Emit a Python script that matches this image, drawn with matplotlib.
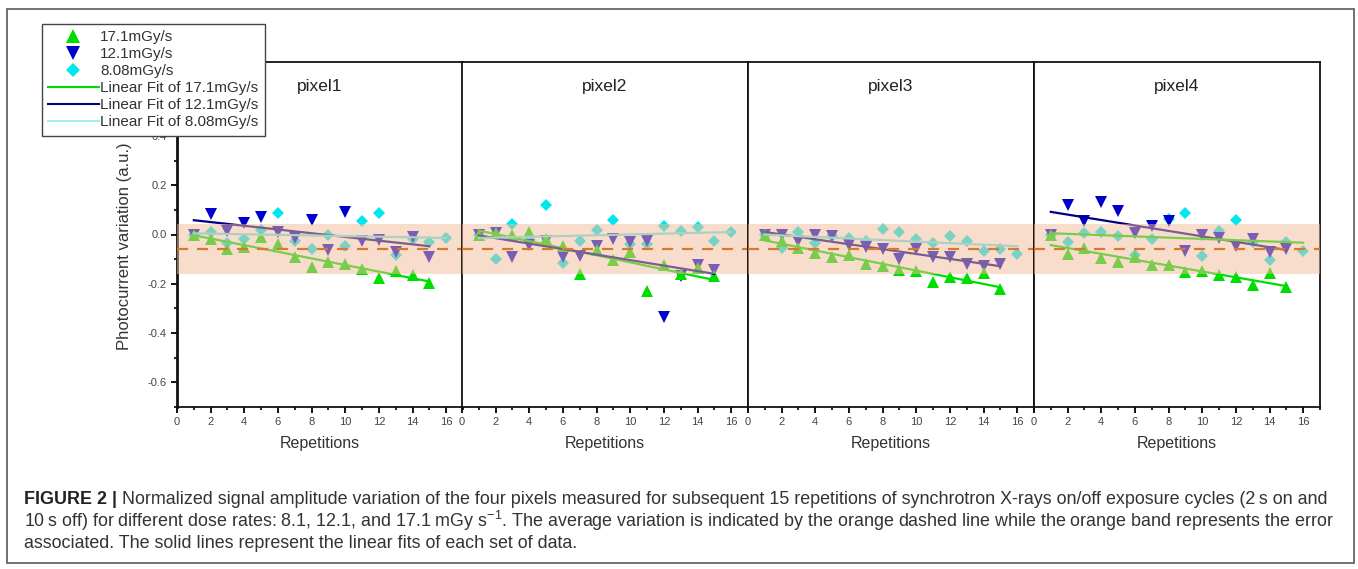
import numpy as np
import matplotlib
matplotlib.use('Agg')
import matplotlib.pyplot as plt
from matplotlib import font_manager
from matplotlib.lines import Line2D
from matplotlib.patches import Rectangle
from matplotlib.ticker import MultipleLocator

REPS_15 = list(range(1, 16))
REPS_16 = list(range(1, 17))

PANELS = ['pixel1', 'pixel2', 'pixel3', 'pixel4']

# 17.1 mGy/s, 12.1 mGy/s (15 reps) and 8.08 mGy/s (16 reps), per pixel
RATE_171 = [
    [0, -0.02, -0.06, -0.05, -0.01, -0.04, -0.09, -0.13, -0.11, -0.12, -0.14, -0.175, -0.15, -0.165, -0.195],
    [0, 0.008, 0.0, 0.01, -0.02, -0.045, -0.161, -0.062, -0.103, -0.073, -0.231, -0.123, -0.16, -0.135, -0.17],
    [0, -0.026, -0.053, -0.076, -0.092, -0.083, -0.12, -0.126, -0.143, -0.147, -0.191, -0.174, -0.177, -0.157, -0.222],
    [0, -0.08, -0.053, -0.096, -0.112, -0.09, -0.123, -0.123, -0.153, -0.147, -0.166, -0.174, -0.204, -0.157, -0.214],
]
RATE_121 = [
    [0, 0.083, 0.015, 0.048, 0.072, 0.012, -0.015, 0.058, -0.062, 0.092, -0.028, -0.023, -0.069, -0.012, -0.093],
    [0, 0.005, -0.092, -0.042, -0.028, -0.093, -0.086, -0.045, -0.019, -0.032, -0.026, -0.333, -0.168, -0.123, -0.143],
    [0, 0.0, -0.026, 0.0, -0.005, -0.042, -0.05, -0.058, -0.099, -0.058, -0.092, -0.093, -0.12, -0.126, -0.12],
    [0, 0.12, 0.056, 0.13, 0.096, 0.005, 0.035, 0.053, -0.066, 0.0, -0.015, -0.045, -0.019, -0.072, -0.06],
]
RATE_808 = [
    [0, 0.01, -0.035, -0.018, 0.019, 0.086, -0.026, -0.058, 0.0, -0.046, 0.053, 0.089, -0.082, -0.018, -0.032, -0.015],
    [0, -0.10, 0.043, -0.022, 0.118, -0.114, -0.026, 0.019, 0.060, -0.039, -0.04, 0.036, 0.015, 0.032, -0.026, 0.009],
    [0, -0.053, 0.012, -0.035, -0.008, -0.015, -0.026, 0.022, 0.009, -0.018, -0.035, -0.008, -0.026, -0.066, -0.058, -0.08],
    [0, -0.032, 0.005, 0.01, -0.008, -0.085, -0.018, 0.062, 0.086, -0.089, 0.016, 0.057, -0.03, -0.103, -0.03, -0.066],
]

MEAN_VARIATION = -0.058
BAND_LOW, BAND_HIGH = -0.161, 0.043

GREEN = '#00DD00'
BLUE = '#0000CC'
CYAN = '#00E8EE'
NAVY = '#000080'
PALE_CYAN = '#66E6E6'
BAND = '#F5BD9B'
DASH = '#D9792F'

CAPTION_BOLD = 'FIGURE 2 |'
CAPTION_LINES = [
    'Normalized signal amplitude variation of the four pixels measured for subsequent 15 repetitions of synchrotron X-rays on/off exposure cycles (2\u2009s on and',
    '10\u2009s off) for different dose rates: 8.1, 12.1, and 17.1 mGy s$^{-1}$. The average variation is indicated by the orange dashed line while the orange band represents the error',
    'associated. The solid lines represent the linear fits of each set of data.',
]


def pick_font(names):
    for name in names:
        try:
            font_manager.findfont(name, fallback_to_default=False)
            return name
        except Exception:
            continue
    return 'DejaVu Sans'


SANS = pick_font(['Liberation Sans', 'Arial'])
NARROW = pick_font(['Liberation Sans Narrow', 'Liberation Sans'])
plt.rcParams['font.family'] = [SANS, 'DejaVu Sans']
plt.rcParams['axes.unicode_minus'] = False
plt.rcParams['mathtext.fontset'] = 'custom'
plt.rcParams['mathtext.rm'] = NARROW

W, H = 1358, 569
fig = plt.figure(figsize=(W / 100, H / 100), dpi=100)

lefts = [177, 462, 748, 1034]
pw = 286
bottom, top = 407, 62

for i, name in enumerate(PANELS):
    ax = fig.add_axes([lefts[i] / W, 1 - bottom / H, pw / W, (bottom - top) / H])
    ax.set_xlim(0, 17)
    ax.set_ylim(-0.7, 0.7)

    ax.plot(REPS_16, RATE_808[i], 'D', color=CYAN, ms=6.5, mew=0, zorder=2)
    ax.plot(REPS_15, RATE_121[i], 'v', color=BLUE, ms=8.5, mew=0, zorder=2)
    ax.plot(REPS_15, RATE_171[i], '^', color=GREEN, ms=8.5, mew=0, zorder=2)

    fit_colors = [GREEN, NAVY, GREEN if i == 3 else PALE_CYAN]
    for reps, vals, c in [(REPS_15, RATE_171[i], fit_colors[0]),
                          (REPS_15, RATE_121[i], fit_colors[1]),
                          (REPS_16, RATE_808[i], fit_colors[2])]:
        k, b = np.polyfit(reps, vals, 1)
        xs = np.array([reps[0], reps[-1]])
        ax.plot(xs, k * xs + b, '-', color=c, lw=1.6, zorder=2.5)

    ax.axhspan(BAND_LOW, BAND_HIGH, color=BAND, alpha=0.5, lw=0, zorder=3)
    ax.axhline(MEAN_VARIATION, color=DASH, ls=(0, (5, 4)), lw=1.6, zorder=4)

    ax.text(0.5, 0.928, name, transform=ax.transAxes, ha='center', va='center',
            fontsize=12.5, color='#222222')

    ax.xaxis.set_major_locator(MultipleLocator(2))
    ax.xaxis.set_minor_locator(MultipleLocator(1))
    ax.tick_params(axis='x', which='major', direction='out', length=4.5, width=1.3,
                   labelsize=8, labelcolor='#444444', pad=3)
    ax.tick_params(axis='x', which='minor', direction='out', length=2.5, width=1.2)
    ax.set_xlabel('Repetitions', fontsize=11.5, color='#333333', labelpad=6)

    if i == 0:
        ax.yaxis.set_minor_locator(MultipleLocator(0.1))
        ax.set_yticks([-0.6, -0.4, -0.2, 0.0, 0.2, 0.4])
        ax.set_yticklabels(['-0.6', '-0.4', '-0.2', '0.0', '0.2', '0.4'])
        ax.tick_params(axis='y', which='major', direction='out', length=4.5, width=1.3,
                       labelsize=8, labelcolor='#444444', pad=3)
        ax.tick_params(axis='y', which='minor', direction='out', length=2.5, width=1.2)
        ax.spines['left'].set_linewidth(2.0)
    else:
        ax.tick_params(axis='y', which='both', left=False, labelleft=False)

    for side in ['top', 'right', 'bottom']:
        ax.spines[side].set_linewidth(1.3)
    if i > 0:
        ax.spines['left'].set_linewidth(1.3)
    for s in ax.spines.values():
        s.set_color('#111111')

fig.text(125 / W, 1 - 246 / H, 'Photocurrent variation (a.u.)', rotation=90,
         ha='center', va='center', fontsize=12, color='#333333')

handles = [
    Line2D([], [], ls='none', marker='^', color=GREEN, ms=10, mew=0),
    Line2D([], [], ls='none', marker='v', color=BLUE, ms=10, mew=0),
    Line2D([], [], ls='none', marker='D', color=CYAN, ms=7.5, mew=0),
    Line2D([], [], color=GREEN, lw=1.5),
    Line2D([], [], color=NAVY, lw=1.5),
    Line2D([], [], color='#A6EEEE', lw=1.5),
]
labels = ['17.1mGy/s', '12.1mGy/s', '8.08mGy/s',
          'Linear Fit of 17.1mGy/s', 'Linear Fit of 12.1mGy/s', 'Linear Fit of 8.08mGy/s']
leg = fig.legend(handles, labels, loc='upper left', bbox_to_anchor=(42 / W, 1 - 24 / H),
                 fontsize=11, frameon=True, fancybox=False, framealpha=1,
                 edgecolor='#444444', handlelength=3.3, handletextpad=0.12,
                 labelspacing=0.2, borderpad=0.4, borderaxespad=0)
leg.get_frame().set_linewidth(1.0)
for t in leg.get_texts():
    t.set_color('#333333')

# outer frame
fig.patches.append(Rectangle((7 / W, 1 - 563 / H), 1347 / W, 554 / H, transform=fig.transFigure,
                             fill=False, edgecolor='#666666', lw=1.3))

# caption
fig.canvas.draw()
renderer = fig.canvas.get_renderer()
cap_size = 12.5
target_right = 1333
x_start = 24
ys = [499, 521, 544]

for _ in range(3):
    tb = fig.text(x_start / W, 1 - ys[0] / H, CAPTION_BOLD, family=NARROW, weight='bold',
                  fontsize=cap_size, color='#222222', va='center')
    bb = tb.get_window_extent(renderer)
    tr = fig.text((bb.x1 + 5) / W, 1 - ys[0] / H, CAPTION_LINES[0], family=NARROW,
                  fontsize=cap_size, color='#333333', va='center')
    rb = tr.get_window_extent(renderer)
    scale = (target_right - x_start) / (rb.x1 - x_start)
    tb.remove()
    tr.remove()
    cap_size *= scale

tb = fig.text(x_start / W, 1 - ys[0] / H, CAPTION_BOLD, family=NARROW, weight='bold',
              fontsize=cap_size, color='#222222', va='center')
bb = tb.get_window_extent(renderer)
fig.text((bb.x1 + 5) / W, 1 - ys[0] / H, CAPTION_LINES[0], family=NARROW,
         fontsize=cap_size, color='#333333', va='center')
for line, y in zip(CAPTION_LINES[1:], ys[1:]):
    fig.text(x_start / W, 1 - y / H, line, family=NARROW, fontsize=cap_size,
             color='#333333', va='center')

fig.savefig('out.png', dpi=100)
